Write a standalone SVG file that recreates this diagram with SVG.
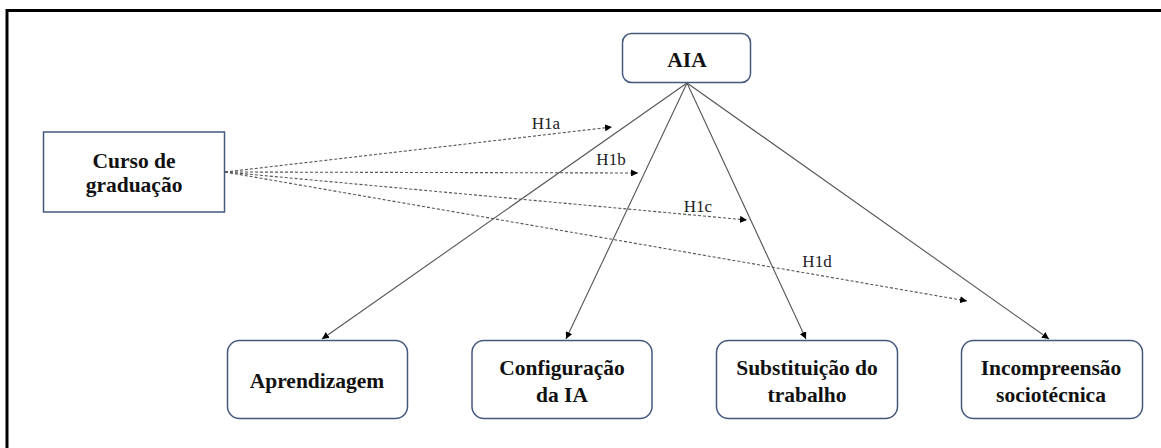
<svg xmlns="http://www.w3.org/2000/svg" width="1161" height="448" viewBox="0 0 1161 448">
<style>
.node{fill:#fff;stroke:#44587e;stroke-width:1.5}
.lbl{font-family:"Liberation Serif","Times New Roman",serif;font-weight:bold;font-size:21.5px;fill:#111;text-anchor:middle}
.h{font-family:"Liberation Serif","Times New Roman",serif;font-size:17px;fill:#222;text-anchor:middle}
.solid{stroke:#555;stroke-width:1.1;fill:none}
.dash{stroke:#555;stroke-width:1.1;fill:none;stroke-dasharray:3 2}
</style>
<defs>
<marker id="ah" viewBox="0 0 10 10" refX="10" refY="5" markerWidth="7" markerHeight="7" markerUnits="userSpaceOnUse" orient="auto">
<path d="M0,0 L10,5 L0,10 z" fill="#000"/>
</marker>
</defs>
<rect x="7" y="10.5" width="1165" height="450" fill="none" stroke="#000" stroke-width="3"/>
<g id="connectors">
<line class="solid" x1="687" y1="83" x2="322" y2="339" marker-end="url(#ah)"/>
<line class="solid" x1="687" y1="83" x2="566" y2="339" marker-end="url(#ah)"/>
<line class="solid" x1="687" y1="83" x2="806" y2="339" marker-end="url(#ah)"/>
<line class="solid" x1="687" y1="83" x2="1049" y2="339" marker-end="url(#ah)"/>
<line class="dash" x1="225" y1="172" x2="612" y2="127" marker-end="url(#ah)"/>
<line class="dash" x1="225" y1="172" x2="638" y2="173" marker-end="url(#ah)"/>
<line class="dash" x1="225" y1="172" x2="747" y2="220" marker-end="url(#ah)"/>
<line class="dash" x1="225" y1="172" x2="967" y2="301" marker-end="url(#ah)"/>
<text class="h" x="546" y="129">H1a</text>
<text class="h" x="611" y="165">H1b</text>
<text class="h" x="698" y="212">H1c</text>
<text class="h" x="817" y="267">H1d</text>
</g>
<g id="curso">
<rect class="node" x="43.5" y="132" width="181" height="80"/>
<text class="lbl" x="134" y="168">Curso de</text>
<text class="lbl" x="134" y="192">graduação</text>
</g>
<g id="aia">
<rect class="node" x="622.5" y="33.5" width="128" height="49" rx="9"/>
<text class="lbl" x="687" y="67">AIA</text>
</g>
<g id="aprendizagem">
<rect class="node" x="227.5" y="340.5" width="180" height="78" rx="12"/>
<text class="lbl" x="317" y="388">Aprendizagem</text>
</g>
<g id="configuracao">
<rect class="node" x="472" y="340.5" width="180" height="78" rx="12"/>
<text class="lbl" x="562" y="375">Configuração</text>
<text class="lbl" x="562" y="402">da IA</text>
</g>
<g id="substituicao">
<rect class="node" x="716.5" y="340.5" width="181" height="78" rx="12"/>
<text class="lbl" x="807" y="375">Substituição  do</text>
<text class="lbl" x="807" y="402">trabalho</text>
</g>
<g id="incompreensao">
<rect class="node" x="961.5" y="340.5" width="181" height="78" rx="12"/>
<text class="lbl" x="1051" y="375">Incompreensão</text>
<text class="lbl" x="1051" y="402">sociotécnica</text>
</g>
</svg>
